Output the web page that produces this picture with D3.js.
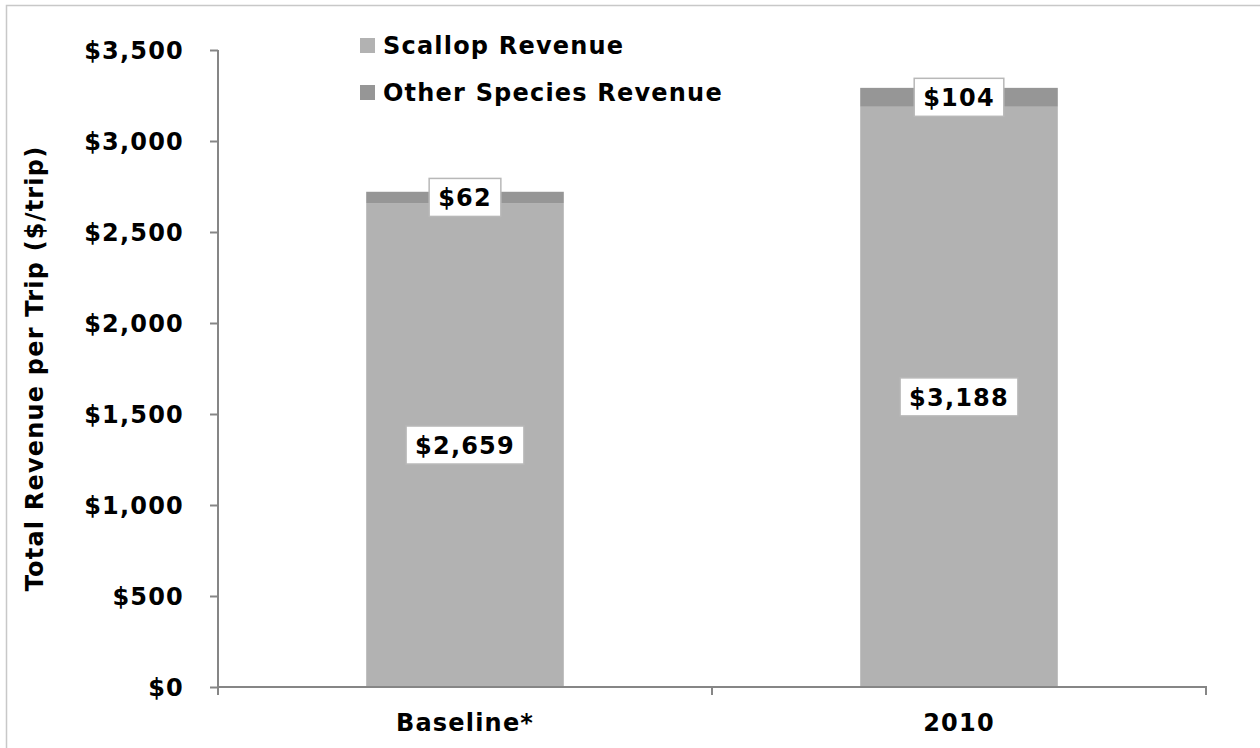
<!DOCTYPE html>
<html>
<head>
<meta charset="utf-8">
<script src="https://cdn.jsdelivr.net/npm/d3@7"></script>
<style>
  html, body { margin: 0; padding: 0; background: #fff; }
  svg text { font-family: "DejaVu Sans", Verdana, sans-serif; font-weight: bold; fill: #000; }
</style>
</head>
<body>
<svg id="chart" width="1260" height="748"></svg>
<script>
// Revenue per trip, stacked by source
const categories = ["Baseline*", "2010"];
const scallopRevenue = [2659, 3188];
const otherSpeciesRevenue = [62, 104];
const seriesNames = ["Scallop Revenue", "Other Species Revenue"];
const seriesColors = ["#b2b2b2", "#969696"];
const yTicks = [0, 500, 1000, 1500, 2000, 2500, 3000, 3500];
const yTitle = "Total Revenue per Trip ($/trip)";

const svg = d3.select("#chart");
const W = 1260, H = 748;
const margin = { left: 218, right: 54, top: 50, bottom: 61 };
const x0 = margin.left, x1 = W - margin.right;
const yBottom = H - margin.bottom, yTop = margin.top;
const FS = 24, LS = "1.2px";

// outer frame
svg.append("path")
  .attr("d", `M6.5,${H + 2} V5.5 H${W + 2}`)
  .attr("fill", "none").attr("stroke", "#c8c8c8").attr("stroke-width", 1.5);

const x = d3.scaleBand().domain(categories).range([x0, x1]).paddingInner(0.6).paddingOuter(0.3);
const y = d3.scaleLinear().domain([0, 3500]).range([yBottom, yTop]);
const money = d3.format("$,");

const rows = categories.map((c, i) => ({ cat: c, scallop: scallopRevenue[i], other: otherSpeciesRevenue[i] }));
const stack = d3.stack().keys(["scallop", "other"])(rows);

// bars
stack.forEach((layer, li) => {
  svg.append("g").selectAll("rect").data(layer).join("rect")
    .attr("x", d => x(d.data.cat))
    .attr("width", x.bandwidth())
    .attr("y", d => y(d[1]))
    .attr("height", d => y(d[0]) - y(d[1]))
    .attr("fill", seriesColors[li]);
});

// y axis
const yAxis = svg.append("g").attr("transform", `translate(${x0},0)`)
  .call(d3.axisLeft(y).tickValues(yTicks).tickFormat(money).tickSize(8).tickPadding(26));
yAxis.attr("font-family", null).attr("font-size", null);
yAxis.select(".domain").attr("stroke", "#868686").attr("stroke-width", 2)
  .attr("d", `M0,${yTop} V${yBottom}`);
yAxis.selectAll(".tick line").attr("stroke", "#868686").attr("stroke-width", 2);
yAxis.selectAll(".tick text").attr("font-size", FS).attr("letter-spacing", LS).attr("dy", "0.36em");

// x axis: baseline with category boundary ticks
const xAxisG = svg.append("g");
xAxisG.append("line").attr("x1", x0 - 1).attr("x2", x1 + 1).attr("y1", yBottom).attr("y2", yBottom)
  .attr("stroke", "#868686").attr("stroke-width", 2);
const bounds = [x0, (x0 + x1) / 2, x1];
xAxisG.selectAll("line.b").data(bounds).join("line").attr("class", "b")
  .attr("x1", d => d).attr("x2", d => d).attr("y1", yBottom).attr("y2", yBottom + 8)
  .attr("stroke", "#868686").attr("stroke-width", 2);
xAxisG.selectAll("text").data(categories).join("text")
  .attr("x", d => x(d) + x.bandwidth() / 2).attr("y", yBottom + 44)
  .attr("text-anchor", "middle").attr("font-size", FS).attr("letter-spacing", LS)
  .text(d => d);

// y axis title
svg.append("text")
  .attr("transform", `translate(43,${(yTop + yBottom) / 2}) rotate(-90)`)
  .attr("text-anchor", "middle").attr("font-size", FS).attr("letter-spacing", LS)
  .text(yTitle);

// value labels in boxed callouts
const labels = [];
stack.forEach(layer => layer.forEach(d => labels.push({ cx: x(d.data.cat) + x.bandwidth() / 2, cy: y((d[0] + d[1]) / 2), v: d[1] - d[0] })));
const lg = svg.append("g");
labels.forEach(l => {
  const g = lg.append("g");
  const t = g.append("text").attr("x", l.cx).attr("y", l.cy).attr("dy", "0.36em")
    .attr("text-anchor", "middle").attr("font-size", FS).attr("letter-spacing", LS)
    .text(money(l.v));
  const bb = t.node().getBBox();
  g.insert("rect", "text")
    .attr("x", l.cx - bb.width / 2 - 9).attr("y", l.cy - 19)
    .attr("width", bb.width + 18).attr("height", 38)
    .attr("fill", "#fff").attr("stroke", "#b8b8b8").attr("stroke-width", 1.5);
});

// legend
const legend = svg.append("g");
seriesNames.forEach((name, i) => {
  const ly = 45 + i * 47;
  legend.append("rect").attr("x", 360).attr("y", ly - 7).attr("width", 15).attr("height", 15)
    .attr("fill", seriesColors[i]);
  legend.append("text").attr("x", 383).attr("y", ly).attr("dy", "0.36em")
    .attr("font-size", FS).attr("letter-spacing", LS).text(name);
});
</script>
</body>
</html>
